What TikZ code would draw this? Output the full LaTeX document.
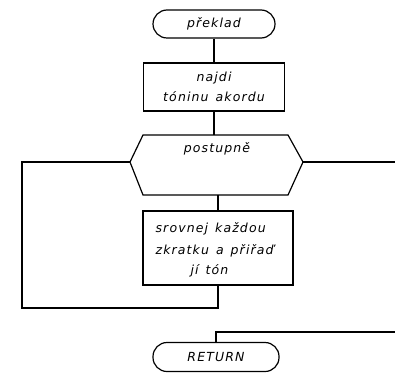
\documentclass[tikz,border=0pt]{standalone}
\usepackage{fontspec}
\newfontfamily\plotfont[LetterSpace=9,WordSpace=1.8]{DejaVu Sans}
\newcommand{\wsp}{\hspace{7pt}}
\begin{document}
\begin{tikzpicture}[x=1pt,y=-1pt,line width=1.2pt,
  term/.style={draw,rounded corners=14pt,minimum width=122pt,minimum height=28pt,inner sep=0pt},
  proc/.style={draw,inner sep=0pt},
  txt/.style={font=\plotfont\itshape\fontsize{12.5}{20.5}\selectfont},
  line/.style={txt,inner sep=0pt,anchor=base west}]
\useasboundingbox (0,0) rectangle (395,382);
\node[term,txt] (start) at (214,24) {překlad};
\node[proc,txt,minimum width=141pt,minimum height=48pt,align=center] (find) at (214,87) {najdi\\tóninu\wsp akordu};
% hexagon (loop)
\coordinate (hl) at (130,162);
\coordinate (htl) at (143,135);
\coordinate (htr) at (288,135);
\coordinate (hr) at (303,162);
\coordinate (hbr) at (288,195);
\coordinate (hbl) at (143,195);
\draw (hl) -- (htl) -- (htr) -- (hr) -- (hbr) -- (hbl) -- cycle;
\node[txt] (loop) at (217,149) {postupně};
\coordinate (htop) at (214,135);
\coordinate (hbot) at (218,195);
\node[proc,minimum width=150pt,minimum height=74pt] (cmp) at (218,248) {};
\node[line] (l1) at (155,232) {srovnej\wsp každou};
\node[line] (l2) at (155,254) {zkratku\wsp a\wsp přiřaď};
\node[line] (l3) at (190,274) {jí\wsp tón};
\node[term,txt,minimum width=126pt,minimum height=29pt] (ret) at (216,357) {RETURN};
% connectors
\draw (start.south) -- (find.north);
\draw (find.south) -- (htop);
\draw (hbot) -- (cmp.north);
\coordinate (lc1) at (22,162);
\coordinate (lc2) at (22,308);
\coordinate (lc3) at (218,308);
\draw (hl) -- (lc1) -- (lc2) -- (lc3) -- (cmp.south);
\coordinate (exitR) at (395,162);
\draw (hr) -- (exitR);
\coordinate (entR) at (395,332);
\coordinate (jn) at (216,332);
\draw (entR) -- (jn) -- (ret.north);
\end{tikzpicture}
\end{document}
